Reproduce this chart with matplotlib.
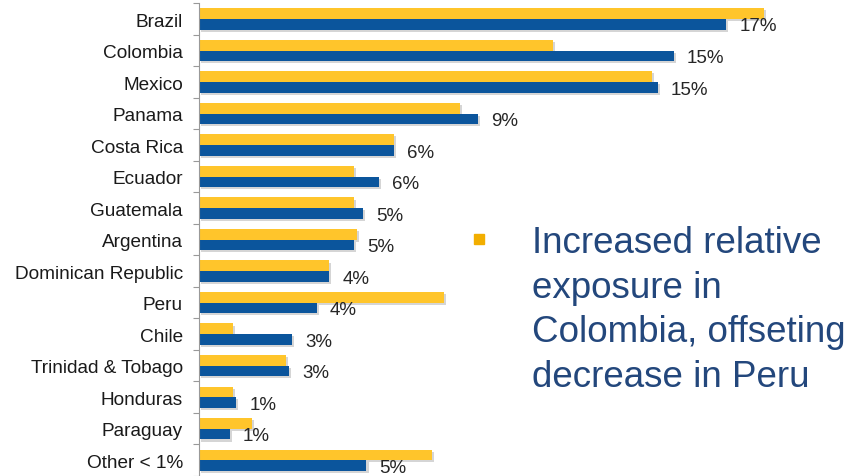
import numpy as np
import matplotlib
matplotlib.use('Agg')
import matplotlib.pyplot as plt
import matplotlib.patheffects as pe

plt.rcParams['font.family'] = ['Liberation Sans', 'DejaVu Sans']

countries = ['Brazil', 'Colombia', 'Mexico', 'Panama', 'Costa Rica', 'Ecuador',
             'Guatemala', 'Argentina', 'Dominican Republic', 'Peru', 'Chile',
             'Trinidad & Tobago', 'Honduras', 'Paraguay', 'Other < 1%']
# previous period (yellow) and current period (blue), % of exposure
prev_share = [18.2, 11.4, 14.6, 8.4, 6.3, 5.0, 5.0, 5.1, 4.2, 7.9, 1.1, 2.8, 1.1, 1.7, 7.5]
curr_share = [17.0, 15.3, 14.8, 9.0, 6.3, 5.8, 5.3, 5.0, 4.2, 3.8, 3.0, 2.9, 1.2, 1.0, 5.4]
note_lines = ['Increased relative', 'exposure in', 'Colombia, offseting', 'decrease in Peru']

yellow = '#FFC52B'
blue = '#0B559C'

fig = plt.figure(figsize=(8.5, 4.77), dpi=100, facecolor='white')
ax = fig.add_axes([0.234, 0.0, 0.73, 0.991])

y = np.arange(len(countries))
h = 0.34
shadow = [pe.SimplePatchShadow(offset=(1.5, -1.5), shadow_rgbFace='#888888', alpha=0.35), pe.Normal()]
ax.barh(y - h / 2, prev_share, height=h, color=yellow, path_effects=shadow)
ax.barh(y + h / 2, curr_share, height=h, color=blue, path_effects=shadow)

for yi, v in zip(y, curr_share):
    ax.text(v + 0.42, yi + h / 2 + 0.05, '%.0f%%' % v, va='center', ha='left',
            fontsize=13.5, color='#262626', clip_on=False)

ax.set_xlim(0, 20)
ax.set_ylim(len(countries) - 0.5, -0.5)
ax.set_yticks(y)
ax.set_yticklabels(countries, fontsize=13.7, color='#1a1a1a')
ax.set_yticks(np.arange(len(countries) + 1) - 0.5, minor=True)
ax.tick_params(axis='y', which='major', length=0, pad=11.5)
ax.tick_params(axis='y', which='minor', length=4, color='#999999', width=0.8)
ax.set_xticks([])
for s in ['top', 'right', 'bottom']:
    ax.spines[s].set_visible(False)
ax.spines['left'].set_color('#999999')
ax.spines['left'].set_linewidth(0.8)

# side note with bullet
fig.patches.append(plt.Rectangle((474 / 850, 1 - 245 / 477), 10 / 850, 10 / 477,
                                 transform=fig.transFigure, color='#F2AE00', zorder=5))
for i, line in enumerate(note_lines):
    base = 253 + i * 44.7
    fig.text(532 / 850, 1 - base / 477, line, fontsize=26.5, color='#23477C',
             va='baseline', ha='left')

fig.savefig('out.png', dpi=100)
